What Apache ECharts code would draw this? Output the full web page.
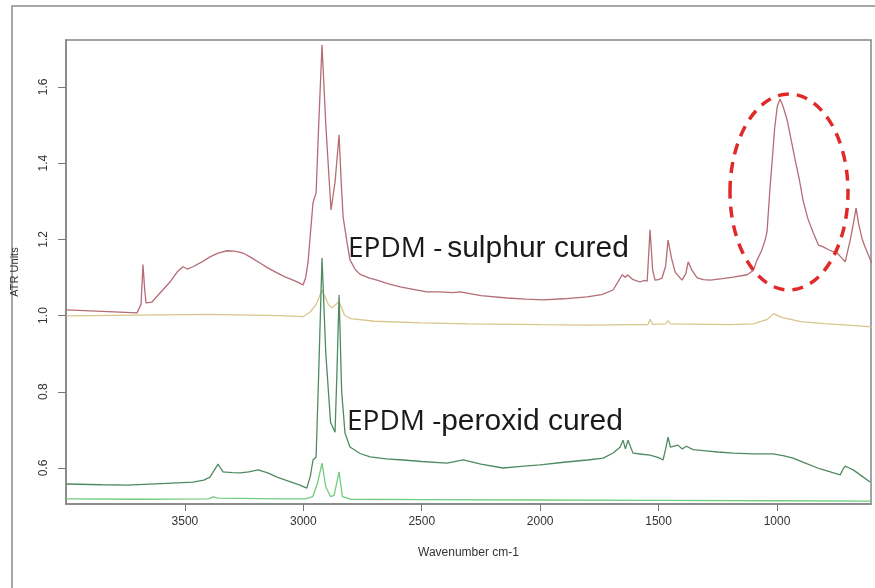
<!DOCTYPE html>
<html>
<head>
<meta charset="utf-8">
<script src="https://cdn.jsdelivr.net/npm/echarts@6/dist/echarts.min.js"></script>
<style>
  html, body { margin: 0; padding: 0; background: #fff; }
  #chart { width: 875px; height: 588px; }
</style>
</head>
<body>
<div id="chart"></div>
<script>
// tick labels
const xTicks = [1000, 1500, 2000, 2500, 3000, 3500]
const yTicks = [0.6, 0.8, 1.0, 1.2, 1.4, 1.6]

// EPDM - sulphur cured
const sulphurWn = [4000, 3850, 3702, 3685, 3677, 3670, 3664, 3640, 3605, 3560, 3533, 3508, 3490, 3466, 3430, 3394, 3360, 3322, 3290, 3254, 3220, 3183, 3150, 3111, 3075, 3043, 3015, 3001, 2990, 2980, 2968, 2959, 2946, 2935, 2921, 2905, 2883, 2866, 2849, 2840, 2832, 2815, 2803, 2780, 2760, 2720, 2689, 2640, 2591, 2530, 2478, 2423, 2368, 2338, 2250, 2140, 2060, 1988, 1900, 1802, 1740, 1692, 1660, 1654, 1640, 1632, 1610, 1578, 1560, 1548, 1536, 1525, 1515, 1500, 1485, 1470, 1460, 1445, 1430, 1401, 1385, 1375, 1360, 1337, 1310, 1282, 1230, 1185, 1126, 1100, 1084, 1065, 1050, 1042, 1030, 1020, 1010, 999, 987, 975, 957, 940, 923, 905, 890, 870, 847, 825, 805, 780, 746, 725, 712, 690, 675, 666, 655, 640, 628, 600]
const sulphurAtr = [1.015, 1.011, 1.007, 1.03, 1.134, 1.07, 1.033, 1.035, 1.059, 1.09, 1.114, 1.128, 1.122, 1.128, 1.14, 1.154, 1.164, 1.17, 1.169, 1.164, 1.152, 1.138, 1.125, 1.112, 1.101, 1.093, 1.085, 1.08, 1.1, 1.14, 1.23, 1.296, 1.322, 1.5, 1.71, 1.5, 1.277, 1.35, 1.474, 1.35, 1.259, 1.19, 1.146, 1.12, 1.108, 1.098, 1.093, 1.083, 1.075, 1.068, 1.062, 1.062, 1.06, 1.062, 1.052, 1.046, 1.043, 1.041, 1.044, 1.049, 1.055, 1.067, 1.1, 1.107, 1.1, 1.107, 1.095, 1.088, 1.092, 1.09, 1.225, 1.12, 1.093, 1.094, 1.099, 1.13, 1.198, 1.15, 1.114, 1.093, 1.11, 1.141, 1.12, 1.099, 1.094, 1.093, 1.097, 1.101, 1.107, 1.118, 1.146, 1.17, 1.198, 1.22, 1.33, 1.408, 1.49, 1.548, 1.568, 1.55, 1.513, 1.46, 1.408, 1.355, 1.303, 1.255, 1.217, 1.185, 1.18, 1.172, 1.164, 1.15, 1.141, 1.2, 1.25, 1.282, 1.24, 1.2, 1.18, 1.138]

// reference trace near 1.0
const refWn = [4000, 3700, 3400, 3100, 3000, 2970, 2945, 2921, 2895, 2880, 2849, 2825, 2800, 2700, 2500, 2300, 2000, 1800, 1600, 1545, 1536, 1525, 1470, 1460, 1450, 1200, 1100, 1040, 1015, 980, 900, 800, 700, 600]
const refAtr = [0.999, 1.001, 1.003, 1.0, 0.997, 1.01, 1.03, 1.067, 1.03, 1.02, 1.036, 1.0, 0.992, 0.985, 0.981, 0.978, 0.976, 0.975, 0.976, 0.976, 0.99, 0.977, 0.978, 0.987, 0.978, 0.976, 0.978, 0.99, 1.005, 0.995, 0.984, 0.979, 0.975, 0.97]

// EPDM - peroxid cured
const peroxidWn = [4000, 3850, 3744, 3600, 3466, 3420, 3394, 3375, 3360, 3350, 3339, 3300, 3267, 3230, 3191, 3150, 3111, 3060, 3014, 2985, 2970, 2959, 2946, 2935, 2921, 2905, 2885, 2866, 2858, 2849, 2838, 2824, 2803, 2760, 2718, 2650, 2579, 2500, 2393, 2325, 2250, 2157, 2080, 2000, 1900, 1800, 1734, 1690, 1662, 1650, 1640, 1629, 1608, 1570, 1536, 1500, 1481, 1470, 1460, 1450, 1443, 1418, 1400, 1383, 1375, 1354, 1300, 1250, 1185, 1100, 1016, 970, 932, 880, 820, 733, 720, 712, 695, 678, 640, 607]
const peroxidAtr = [0.558, 0.556, 0.555, 0.559, 0.563, 0.568, 0.576, 0.595, 0.61, 0.6, 0.59, 0.588, 0.587, 0.59, 0.595, 0.587, 0.576, 0.565, 0.555, 0.547, 0.58, 0.621, 0.629, 0.85, 1.151, 0.9, 0.72, 0.694, 0.85, 1.054, 0.8, 0.692, 0.655, 0.638, 0.629, 0.624, 0.621, 0.617, 0.613, 0.621, 0.61, 0.6, 0.604, 0.608, 0.615, 0.621, 0.626, 0.64, 0.655, 0.673, 0.65, 0.673, 0.639, 0.636, 0.634, 0.627, 0.621, 0.65, 0.681, 0.655, 0.652, 0.66, 0.65, 0.657, 0.66, 0.648, 0.645, 0.642, 0.639, 0.637, 0.637, 0.632, 0.626, 0.613, 0.598, 0.582, 0.598, 0.605, 0.6, 0.595, 0.578, 0.563]

// bottom trace
const baseWn = [4000, 3700, 3400, 3380, 3360, 3100, 2990, 2960, 2940, 2921, 2905, 2885, 2870, 2849, 2835, 2800, 2500, 2000, 1500, 1000, 600]
const baseAtr = [0.519, 0.518, 0.519, 0.524, 0.521, 0.519, 0.519, 0.525, 0.56, 0.613, 0.55, 0.525, 0.528, 0.59, 0.525, 0.518, 0.517, 0.516, 0.515, 0.514, 0.513]

const zip = (xs, ys) => xs.map((x, i) => [x, ys[i]])

const chart = echarts.init(document.getElementById('chart'))

const axisFont = "'Liberation Sans Narrow', 'Liberation Sans', sans-serif"
const lineSeries = (data, color, z) => ({
  type: 'line',
  data: data,
  showSymbol: false,
  symbol: 'none',
  lineStyle: { color: color, width: 1.3 },
  z: z,
  animation: false
})

chart.setOption({
  backgroundColor: '#fff',
  animation: false,
  grid: {
    left: 66, top: 40, right: 4, bottom: 84,
    show: true,
    borderColor: '#858585',
    borderWidth: 1.5
  },
  xAxis: {
    type: 'value',
    min: 603,
    max: 4002,
    inverse: true,
    name: 'Wavenumber cm-1',
    nameLocation: 'middle',
    nameGap: 43,
    nameTextStyle: { fontFamily: axisFont, fontSize: 12, color: '#333' },
    axisLine: { show: true, lineStyle: { color: '#858585', width: 1.5 } },
    axisTick: { show: true, length: 7, customValues: xTicks, lineStyle: { color: '#777' } },
    axisLabel: { customValues: xTicks, fontFamily: axisFont, fontSize: 12, color: '#333', margin: 12, formatter: v => String(v) },
    splitLine: { show: false }
  },
  yAxis: {
    type: 'value',
    min: 0.5055,
    max: 1.723,
    name: 'ATR Units',
    nameLocation: 'middle',
    nameGap: 46,
    nameRotate: 90,
    nameTextStyle: { fontFamily: axisFont, fontSize: 11, color: '#333' },
    axisLine: { show: true, lineStyle: { color: '#858585', width: 1.5 } },
    axisTick: { show: true, length: 8, customValues: yTicks, lineStyle: { color: '#777' } },
    axisLabel: {
      customValues: yTicks,
      rotate: 90,
      fontFamily: axisFont,
      fontSize: 12,
      color: '#333',
      margin: 16,
      formatter: v => v.toFixed(1)
    },
    splitLine: { show: false }
  },
  series: [
    lineSeries(zip(baseWn, baseAtr), '#72cc7e', 2),
    lineSeries(zip(refWn, refAtr), '#d8c68c', 3),
    lineSeries(zip(peroxidWn, peroxidAtr), '#4f8a62', 4),
    lineSeries(zip(sulphurWn, sulphurAtr), '#b46c76', 5)
  ],
  graphic: [
    {
      type: 'polyline',
      shape: { points: [[12, 588], [12, 6], [875, 6]] },
      style: { stroke: '#8a8a8a', lineWidth: 1.5, fill: null },
      silent: true
    },
    {
      type: 'text',
      left: 348,
      top: 234,
      style: {
        text: '{a|EPDM -}{b|sulphur cured}',
        rich: {
          a: { fontFamily: "'Open Sans', sans-serif", fontSize: 28, fill: '#1a1a1a' },
          b: { fontFamily: "'Liberation Sans', sans-serif", fontSize: 30, fill: '#1a1a1a', padding: [0, 0, 0, 5] }
        }
      },
      z: 20
    },
    {
      type: 'text',
      left: 347,
      top: 407,
      style: {
        text: '{a|EPDM -}{b|peroxid cured}',
        rich: {
          a: { fontFamily: "'Open Sans', sans-serif", fontSize: 28, fill: '#1a1a1a' },
          b: { fontFamily: "'Liberation Sans', sans-serif", fontSize: 30, fill: '#1a1a1a' }
        }
      },
      z: 20
    },
    {
      type: 'ellipse',
      shape: { cx: 789, cy: 192, rx: 59, ry: 98 },
      style: { stroke: '#e02a2a', lineWidth: 3.5, lineDash: [11, 8], fill: null },
      z: 20
    }
  ]
})
</script>
</body>
</html>
